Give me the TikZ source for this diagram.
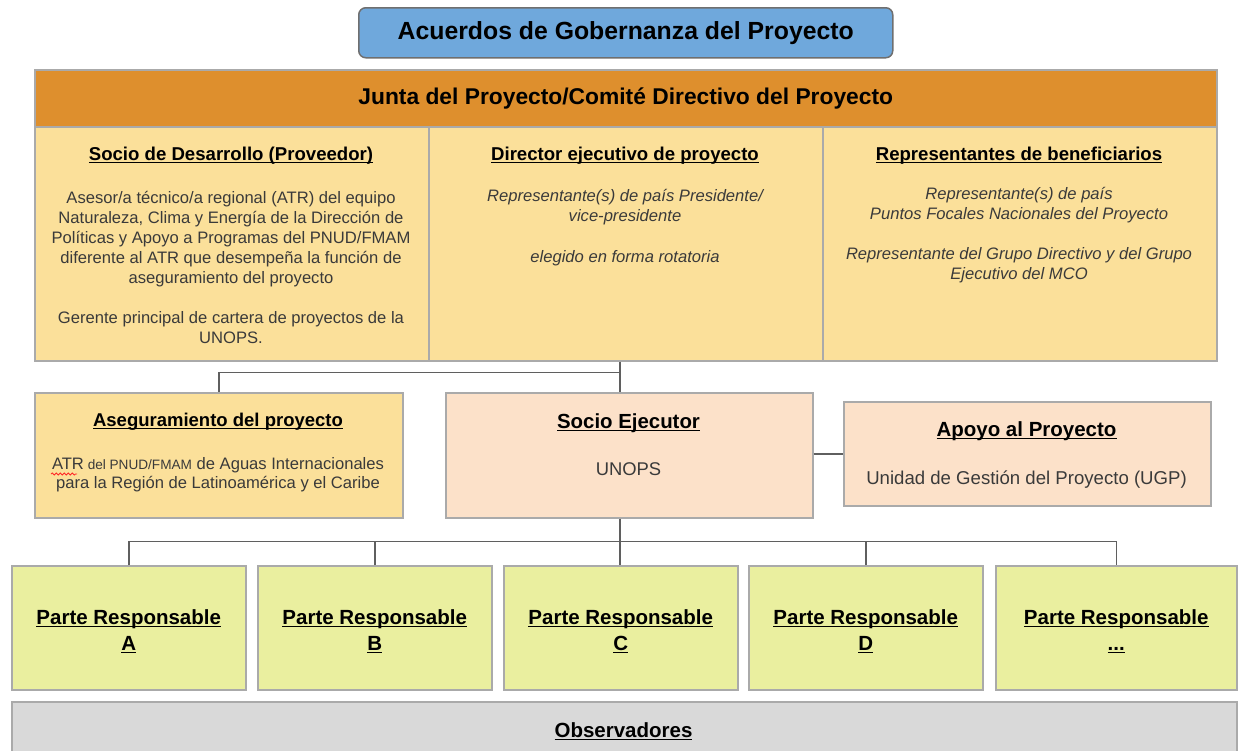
\documentclass[tikz,border=0pt]{standalone}
\usepackage{fontspec}
\setmainfont{Liberation Sans}
\usepackage{tikz}
\usetikzlibrary{positioning,decorations.pathmorphing}

\definecolor{azul}{HTML}{6FA8DC}
\definecolor{naranja}{HTML}{DE8F2D}
\definecolor{amarillo}{HTML}{FBE09A}
\definecolor{salmon}{HTML}{FCE1C9}
\definecolor{lima}{HTML}{EAEF9F}
\definecolor{gris}{HTML}{D9D9D9}
\definecolor{borde}{HTML}{AAAAAA}
\definecolor{linea}{HTML}{5F5F5F}
\definecolor{texto}{HTML}{3A3A3A}

\newcommand{\fnt}[2]{\fontsize{#1}{#2}\selectfont}
\newsavebox{\ulbox}
\newcommand{\titul}[1]{\sbox{\ulbox}{\textbf{#1}}%
  \usebox{\ulbox}\llap{\rule[-3pt]{\wd\ulbox}{1.3pt}}}
\newcommand{\puntos}{...}

\begin{document}
\begin{tikzpicture}[x=1pt,y=-1pt,
  caja/.style={draw=borde,line width=1.5pt,inner sep=0pt,anchor=north west},
  conn/.style={draw=linea,line width=1.5pt},
  hd/.style={inner sep=0pt,anchor=base,align=center},
  txt/.style={inner sep=0pt,anchor=base,align=center,text=texto}]
    \useasboundingbox (0,0) rectangle (1238,750);

    % titulo
    \node[caja,fill=azul,draw=linea!90,rounded corners=7pt,
      minimum width=534,minimum height=50,font=\fnt{24.8}{28}\bfseries]
      (tit) at (358,7) {Acuerdos de Gobernanza del Proyecto};

    % junta
    \node[caja,fill=naranja,minimum width=1182,minimum height=57,
      font=\fnt{22.8}{26}\bfseries]
      (junta) at (34,69) {Junta del Proyecto/Comité Directivo del Proyecto};
    \node[caja,fill=amarillo,minimum width=394,minimum height=234] (socio) at (34,126) {};
    \node[caja,fill=amarillo,minimum width=394,minimum height=234] (director) at (428,126) {};
    \node[caja,fill=amarillo,minimum width=394,minimum height=234] (benef) at (822,126) {};

    % (base = ultima linea)
    \node[hd,font=\fnt{18.6}{22}] (socioT) at (231,160) {\titul{Socio de Desarrollo (Proveedor)}};
    \node[txt,font=\fnt{16.6}{20}] (socioA) at (231,343)
      {Asesor/a técnico/a regional (ATR) del equipo\\
       Naturaleza, Clima y Energía de la Dirección de\\
       Políticas y Apoyo a Programas del PNUD/FMAM\\
       diferente al ATR que desempeña la función de\\
       aseguramiento del proyecto\\[20pt]
       Gerente principal de cartera de proyectos de la\\
       UNOPS.};

    \node[hd,font=\fnt{18.6}{22}] (directorT) at (625,160) {\titul{Director ejecutivo de proyecto}};
    \node[txt,font=\fnt{16.6}{20.5}\itshape] (directorA) at (625,262)
      {Representante(s) de país Presidente/\\
       vice-presidente\\[20pt]
       elegido en forma rotatoria};

    \node[hd,font=\fnt{18.6}{22}] (benefT) at (1019,160) {\titul{Representantes de beneficiarios}};
    \node[txt,font=\fnt{16.6}{20}\itshape] (benefA) at (1019,279)
      {Representante(s) de país\\
       Puntos Focales Nacionales del Proyecto\\[20pt]
       Representante del Grupo Directivo y del Grupo\\
       Ejecutivo del MCO};

    % fila media
    \node[caja,fill=amarillo,minimum width=368,minimum height=125] (asegur) at (34,392) {};
    \node[hd,font=\fnt{18.5}{22}] (asegurT) at (218,426) {\titul{Aseguramiento del proyecto}};
    \node[txt,font=\fnt{16.6}{19}] (asegurA) at (218,488)
      {ATR{\fnt{13.6}{19} del PNUD/FMAM} de Aguas Internacionales\\
       para la Región de Latinoamérica y el Caribe};
    \draw[red!85,line width=0.8pt,decorate,
      decoration={snake,amplitude=1pt,segment length=4pt}] (51,474) -- (77,474);

    \node[caja,fill=salmon,minimum width=367,minimum height=125] (ejecutor) at (445,392) {};
    \node[hd,font=\fnt{20.4}{24}] (ejecutorT) at (628.5,428) {\titul{Socio Ejecutor}};
    \node[txt,font=\fnt{18.4}{22}] (ejecutorA) at (628.5,475) {UNOPS};

    \node[caja,fill=salmon,minimum width=367,minimum height=104] (apoyo) at (843,401) {};
    \node[hd,font=\fnt{20.5}{24}] (apoyoT) at (1026.5,436) {\titul{Apoyo al Proyecto}};
    \node[txt,font=\fnt{18.6}{22}] (apoyoA) at (1026.5,484) {Unidad de Gestión del Proyecto (UGP)};

    % partes responsables
    \foreach \n/\x/\w/\l in {A/11/234/A,B/257/234/B,C/503/234/C,D/748/234/D,E/995/241/\puntos}{
      \node[caja,fill=lima,minimum width=\w,minimum height=124] (parte\n) at (\x,565) {};
      \node[hd,font=\fnt{20.5}{26}] (parte\n T) at ([yshift=-85pt]parte\n.north)
        {\titul{Parte Responsable}\\\titul{\l}};
    }

    % observadores
    \node[caja,fill=gris,minimum width=1225,minimum height=70] (obs) at (11,701) {};
    \node[hd,font=\fnt{20.5}{24}] (obsT) at (623.5,737) {\titul{Observadores}};

    % conectores
    \coordinate (nudoA) at (620,372.7);
    \coordinate (nudoB) at (620,541.5);
    \draw[conn] (nudoA |- director.south) -- (nudoA |- ejecutor.north);
    \draw[conn] (nudoA) -| (asegur.north);
    \draw[conn] (ejecutor.east |- apoyo.west) -- (apoyo.west);
    \draw[conn] (nudoB |- ejecutor.south) -- (nudoB |- parteC.north);
    \draw[conn] (parteA.north) |- (nudoB) -| (parteE.north);
    \foreach \n in {B,D} \draw[conn] (parte\n.north) -- (parte\n.north |- nudoB);
\end{tikzpicture}
\end{document}
